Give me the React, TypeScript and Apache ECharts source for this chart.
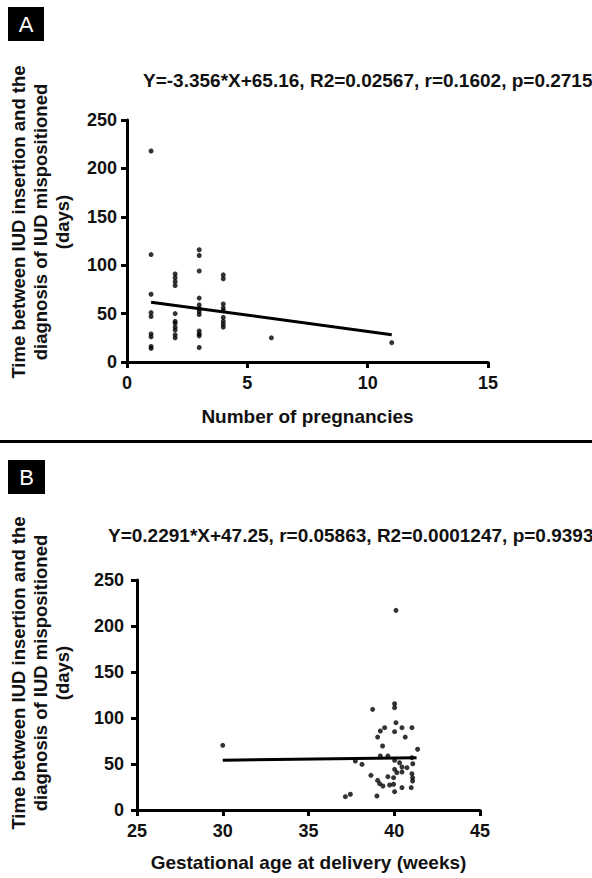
import React, { useEffect, useRef } from "react";
import * as echarts from "echarts";

// Panel A: number of pregnancies vs days
const pregnanciesX = [
  1, 1, 1, 1, 1, 1, 1, 1, 1,
  2, 2, 2, 2, 2, 2, 2, 2, 2, 2, 2,
  3, 3, 3, 3, 3, 3, 3, 3, 3, 3, 3, 3,
  4, 4, 4, 4, 4, 4, 4, 4, 4,
  6, 11,
];
const pregnanciesDays = [
  218, 111, 70, 51, 47, 29, 26, 16, 14,
  91, 87, 83, 79, 50, 42, 40, 36, 33, 28, 25,
  116, 110, 94, 66, 59, 55, 52, 49, 32, 29, 27, 15,
  90, 86, 60, 56, 53, 46, 42, 39, 36,
  25, 20,
];
const fitAX = [1, 11];
const fitAY = [61.8, 28.2];

// Panel B: gestational age at delivery vs days
const gestX = [
  30.0, 37.15, 37.44, 37.73, 38.12, 38.64, 38.74, 38.99, 39.03, 39.03,
  39.15, 39.19, 39.19, 39.32, 39.34, 39.44, 39.63, 39.63, 39.73, 39.96,
  39.96, 40.02, 40.02, 40.02, 40.02, 40.02, 40.02, 40.1, 40.1, 40.15,
  40.31, 40.45, 40.45, 40.45, 40.45, 40.64, 40.74, 41.03, 41.03, 41.08,
  41.03, 41.07, 41.07, 40.99, 41.36,
];
const gestDays = [
  70.3, 14.5, 17.1, 53.3, 49.6, 37.7, 109.4, 15.2, 79.3, 32.2,
  28.6, 85.9, 58.7, 69.6, 26.1, 89.5, 58.7, 36.2, 27.2, 35.1,
  28.0, 115.5, 111.2, 85.1, 54.0, 44.2, 19.9, 94.9, 217, 40.6,
  51.4, 89.5, 46.7, 41.3, 24.3, 79.3, 46.0, 89.5, 56.9, 50.3,
  39.5, 35.1, 31.5, 24.3, 66.0,
];
const fitBX = [30, 41.3];
const fitBY = [54.1, 56.7];

const yTicks = [0, 250, 50];
const xTicksA = [0, 15, 5];
const xTicksB = [25, 45, 5];

const eqA = "Y=-3.356*X+65.16, R2=0.02567, r=0.1602, p=0.2715";
const eqB = "Y=0.2291*X+47.25, r=0.05863, R2=0.0001247, p=0.9393";
const yTitle = "Time between IUD insertion and the\ndiagnosis of IUD mispositioned\n(days)";
const xTitleA = "Number of pregnancies";
const xTitleB = "Gestational age at delivery (weeks)";

const FONT = "'Liberation Sans', Arial, Helvetica, sans-serif";

const zip = (xs: number[], ys: number[]) => xs.map((x, i) => [x, ys[i]]);

function axisCommon(labelMargin: number) {
  return {
    axisLine: { show: true, onZero: false, lineStyle: { color: "#000", width: 3 } },
    axisTick: { show: true, inside: false, length: 6, lineStyle: { color: "#000", width: 3 } },
    splitLine: { show: false },
    axisLabel: {
      margin: labelMargin,
      color: "#111",
      fontSize: 18,
      fontWeight: "bold",
      fontFamily: FONT,
    },
  };
}

export default function App() {
  const ref = useRef<HTMLDivElement>(null);
  useEffect(() => {
    if (!ref.current) return;
    const chart = echarts.init(ref.current, undefined, { renderer: "svg" });
    const option = {
      animation: false,
      backgroundColor: "#fff",
      grid: [
        { left: 127, right: 104, top: 120, bottom: 516 },
        { left: 137, right: 112, top: 580, bottom: 68 },
      ],
      xAxis: [
        {
          gridIndex: 0,
          type: "value",
          min: xTicksA[0],
          max: xTicksA[1],
          interval: xTicksA[2],
          name: xTitleA,
          nameLocation: "middle",
          nameGap: 45,
          nameTextStyle: { fontSize: 19, fontWeight: "bold", color: "#111", fontFamily: FONT },
          ...axisCommon(12),
        },
        {
          gridIndex: 1,
          type: "value",
          min: xTicksB[0],
          max: xTicksB[1],
          interval: xTicksB[2],
          name: xTitleB,
          nameLocation: "middle",
          nameGap: 43,
          nameTextStyle: { fontSize: 19, fontWeight: "bold", color: "#111", fontFamily: FONT },
          ...axisCommon(12),
        },
      ],
      yAxis: [
        {
          gridIndex: 0,
          type: "value",
          min: yTicks[0],
          max: yTicks[1],
          interval: yTicks[2],
          ...axisCommon(10),
        },
        {
          gridIndex: 1,
          type: "value",
          min: yTicks[0],
          max: yTicks[1],
          interval: yTicks[2],
          ...axisCommon(13),
        },
      ],
      series: [
        {
          type: "scatter",
          xAxisIndex: 0,
          yAxisIndex: 0,
          data: zip(pregnanciesX, pregnanciesDays),
          symbolSize: 5,
          itemStyle: { color: "#000" },
        },
        {
          type: "line",
          xAxisIndex: 0,
          yAxisIndex: 0,
          data: zip(fitAX, fitAY),
          symbol: "none",
          lineStyle: { color: "#000", width: 3 },
        },
        {
          type: "scatter",
          xAxisIndex: 1,
          yAxisIndex: 1,
          data: zip(gestX, gestDays),
          symbolSize: 5,
          itemStyle: { color: "#000" },
        },
        {
          type: "line",
          xAxisIndex: 1,
          yAxisIndex: 1,
          data: zip(fitBX, fitBY),
          symbol: "none",
          lineStyle: { color: "#000", width: 3 },
        },
      ],
      graphic: [
        { type: "rect", shape: { x: 8, y: 7, width: 36, height: 34 }, style: { fill: "#000" } },
        {
          type: "text",
          x: 26,
          y: 24,
          style: { text: "A", fill: "#fff", fontSize: 22, fontFamily: FONT, align: "center", verticalAlign: "middle" },
        },
        { type: "rect", shape: { x: 8, y: 460, width: 37, height: 34 }, style: { fill: "#000" } },
        {
          type: "text",
          x: 26.5,
          y: 477,
          style: { text: "B", fill: "#fff", fontSize: 22, fontFamily: FONT, align: "center", verticalAlign: "middle" },
        },
        { type: "rect", shape: { x: 0, y: 440, width: 592, height: 3 }, style: { fill: "#000" } },
        {
          type: "text",
          x: 143,
          y: 80,
          style: { text: eqA, fill: "#111", fontSize: 19, fontWeight: "bold", fontFamily: FONT, align: "left", verticalAlign: "middle" },
        },
        {
          type: "text",
          x: 108,
          y: 535,
          style: { text: eqB, fill: "#111", fontSize: 19, fontWeight: "bold", fontFamily: FONT, align: "left", verticalAlign: "middle" },
        },
        {
          type: "text",
          x: 40,
          y: 222,
          rotation: Math.PI / 2,
          style: {
            text: yTitle,
            fill: "#111",
            fontSize: 18.5,
            fontWeight: "bold",
            fontFamily: FONT,
            align: "center",
            verticalAlign: "middle",
            lineHeight: 22,
          },
        },
        {
          type: "text",
          x: 40,
          y: 673,
          rotation: Math.PI / 2,
          style: {
            text: yTitle,
            fill: "#111",
            fontSize: 18.5,
            fontWeight: "bold",
            fontFamily: FONT,
            align: "center",
            verticalAlign: "middle",
            lineHeight: 22,
          },
        },
      ],
    };
    chart.setOption(option as any);
    return () => chart.dispose();
  }, []);
  return (
    <div
      ref={ref}
      style={{ position: "absolute", left: 0, top: 0, width: 592, height: 878 }}
    />
  );
}
